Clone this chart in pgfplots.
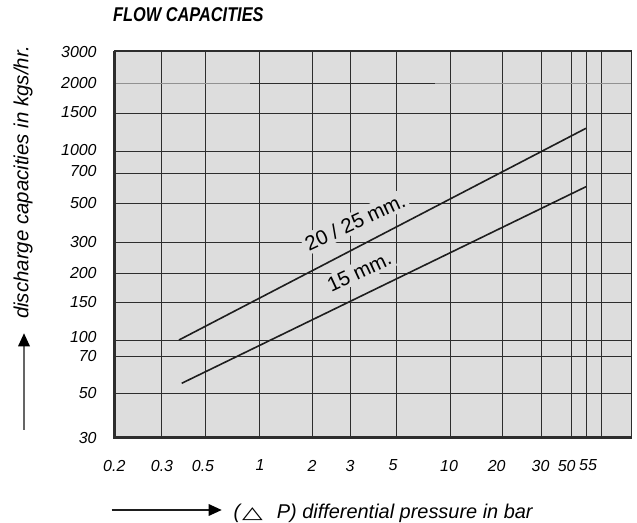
\documentclass[border=0pt]{standalone}
\usepackage{pgfplots}
\pgfplotsset{compat=1.18}
\usepackage{graphicx}
\usepackage{fontspec}
\setmainfont{Liberation Sans}
\newfontfamily\symfont{DejaVu Sans}
\newfontfamily\condfont[FakeStretch=0.82]{Liberation Sans}
\definecolor{bg}{RGB}{221,221,221}
\definecolor{gridc}{RGB}{45,45,45}
\definecolor{linec}{RGB}{30,30,30}
\definecolor{lightg}{RGB}{145,145,145}

\begin{document}
\begin{tikzpicture}[x=1bp,y=1bp]
\useasboundingbox (0,0) rectangle (637,523);
% chart background
\fill[bg] (114.3,85.3) rectangle (631.7,472);
% grid of the chart (axis units equal bp here)
\foreach \gx in {161.5,205.5,259.5,312.5,350.5,396.5,450.5,502.5,541.5,571.5,586.5,601.5}{
  \fill[gridc] (\gx-0.55,85.3) rectangle (\gx+0.55,472);
}
\foreach \gy in {129.5,166.5,182.5,220.5,249.5,280.5,319.5,349.5,371.5,409.5}{
  \fill[gridc] (114.3,\gy-0.85) rectangle (631.7,\gy+0.85);
}
\fill[lightg] (114.3,438.65) rectangle (250,440.35);
\fill[gridc] (250,438.65) rectangle (435,440.35);
\fill[lightg] (435,438.65) rectangle (631.7,440.35);
% labels on the chart
\node[rotate=25, fill=bg, inner sep=3bp, font=\fontsize{20.5}{20.5}\selectfont] at (355,301) {20 / 25 mm.};
\node[rotate=25, fill=bg, inner sep=3bp, font=\fontsize{20.5}{20.5}\selectfont] at (359.3,251.3) {15 mm.};
\begin{axis}[
  at={(114.3bp,85.3bp)}, anchor=south west,
  scale only axis, width=517.4bp, height=386.7bp,
  xmin=114.3, xmax=631.7, ymin=85.3, ymax=472,
  axis line style={gridc, line width=1.2bp},
  major tick length=0pt,
  xtick={114.3,162,203,260,312,350,393,449,496.7,540.5,566.7,588},
  xticklabels={0.2,0.3,0.5,1,2,3,5,10,20,30,50,55},
  ytick={85.3,129.7,167,185.5,221.3,250.3,281.3,319.7,352.2,373.3,410.5,439.7,470.5},
  yticklabels={30,50,70,100,150,200,300,500,700,1000,1500,2000,3000},
  tick label style={font=\fontsize{16}{16}\selectfont\itshape},
  xticklabel style={anchor=north, inner sep=0pt, yshift=-22bp},
  yticklabel style={anchor=east, inner sep=0pt, xshift=-17.5bp},
  clip=false,
]
% capacity lines
\addplot[linec, line width=1.6bp] coordinates {(179,183) (586,394.7)};
\addplot[linec, line width=1.6bp] coordinates {(181.7,139.7) (586,336.3)};
% thick left and bottom axis lines
\draw[gridc, line width=2.4bp] (rel axis cs:0,1) -- (rel axis cs:0,0) -- (rel axis cs:1,0);
\end{axis}
% title
\node[anchor=base west, inner sep=0pt, font=\condfont\fontsize{20}{20}\selectfont\bfseries\itshape] at (113,501.3) {FLOW CAPACITIES};
% y label and arrow
\node[rotate=90, inner sep=0pt, font=\fontsize{20.5}{20.5}\selectfont\itshape] at (23,340.5) {discharge capacities in kgs/hr.};
\draw[lightg!70!black, line width=1.2bp] (24,93) -- (24,178);
\fill[black] (24,189.7) -- (18,176.7) -- (30,176.7) -- cycle;
% x label and arrow
\draw[linec, line width=1.2bp] (111.7,13) -- (210,13);
\fill[black] (221.7,13) -- (208.7,19) -- (208.7,7) -- cycle;
\node[anchor=base west, inner sep=0pt, font=\fontsize{20}{20}\selectfont\itshape] at (233.3,4.7) {(\hspace{2bp}{\symfont\upshape\scalebox{1.35}[0.85]{△}}\hspace{14bp}P) differential pressure in bar};
\end{tikzpicture}
\end{document}
